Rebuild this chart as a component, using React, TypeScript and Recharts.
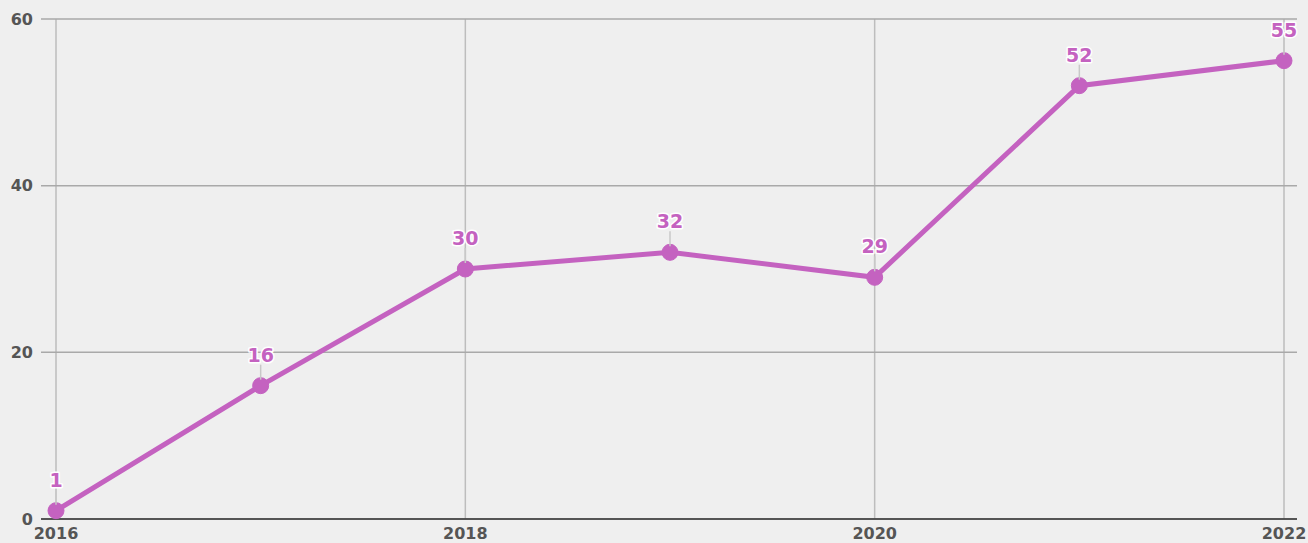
import React from "react";
import { LineChart, Line, XAxis, YAxis, CartesianGrid } from "recharts";

const years = [2016, 2017, 2018, 2019, 2020, 2021, 2022];
const values = [1, 16, 30, 32, 29, 52, 55];
const xTicks = [2016, 2018, 2020, 2022];
const yTicks = [0, 20, 40, 60];

const data = years.map((y, i) => ({ year: y, value: values[i] }));

const LINE_COLOR = "#c462c0";
const FONT = "'DejaVu Sans', Verdana, sans-serif";

const ValueLabel = (props: any) => {
  const { x, y, value } = props;
  if (x == null || y == null) return null;
  return (
    <g>
      <line x1={x} y1={y - 21} x2={x} y2={y - 6} stroke="#c8c8c8" strokeWidth={1.5} />
      <text
        x={x}
        y={y - 24}
        textAnchor="middle"
        fontFamily={FONT}
        fontWeight="bold"
        fontSize={19}
        fill={LINE_COLOR}
        stroke="#ffffff"
        strokeWidth={3}
        strokeLinejoin="round"
        style={{ paintOrder: "stroke" }}
      >
        {value}
      </text>
    </g>
  );
};

export default function App() {
  return (
    <div style={{ position: "absolute", left: 0, top: 0, width: 1308, height: 543, background: "#efefef" }}>
      <LineChart
        width={1308}
        height={543}
        data={data}
        margin={{ top: 19, right: 11, bottom: 0, left: 0 }}
      >
        <CartesianGrid
          horizontal={false}
          vertical={true}
          stroke="#bdbdbd"
          strokeWidth={1.5}
          verticalValues={xTicks}
        />
        <CartesianGrid
          horizontal={true}
          vertical={false}
          stroke="#a9a9a9"
          strokeWidth={1.5}
        />
        <XAxis
          dataKey="year"
          type="number"
          domain={[2016, 2022]}
          ticks={xTicks}
          padding={{ left: 15, right: 13 }}
          height={24}
          tickSize={0}
          tickMargin={9}
          axisLine={{ stroke: "#333333", strokeWidth: 1.5 }}
          tickLine={false}
          interval={0}
          tick={{ fill: "#555555", fontFamily: FONT, fontWeight: "bold", fontSize: 16 }}
        />
        <YAxis
          type="number"
          domain={[0, 60]}
          ticks={yTicks}
          width={41}
          tickSize={0}
          tickMargin={8}
          axisLine={false}
          tickLine={false}
          interval={0}
          tick={{ fill: "#555555", fontFamily: FONT, fontWeight: "bold", fontSize: 16 }}
        />
        <Line
          type="linear"
          dataKey="value"
          stroke={LINE_COLOR}
          strokeWidth={5}
          dot={{ r: 8, fill: LINE_COLOR, stroke: LINE_COLOR, strokeWidth: 1 }}
          activeDot={false}
          isAnimationActive={false}
          label={<ValueLabel />}
        />
      </LineChart>
    </div>
  );
}
